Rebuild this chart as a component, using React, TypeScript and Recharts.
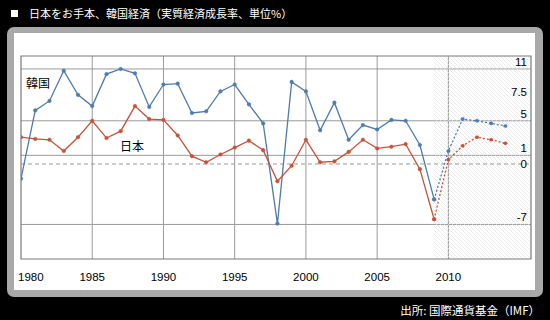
import { LineChart, Line, XAxis, YAxis, CartesianGrid, ReferenceArea, ReferenceLine } from "recharts";

// years 1980-2014, actual until 2009, IMF forecast 2009-2014
const years = [
  1980, 1981, 1982, 1983, 1984, 1985, 1986, 1987, 1988, 1989, 1990, 1991,
  1992, 1993, 1994, 1995, 1996, 1997, 1998, 1999, 2000, 2001, 2002, 2003,
  2004, 2005, 2006, 2007, 2008, 2009, 2010, 2011, 2012, 2013, 2014,
];

const korea = [
  -1.7, 6.2, 7.3, 10.8, 8.0, 6.7, 10.4, 11.0, 10.5, 6.6, 9.2, 9.3,
  5.9, 6.1, 8.4, 9.2, 6.9, 4.7, -6.9, 9.5, 8.4, 3.9, 7.1, 2.8,
  4.5, 4.0, 5.1, 5.0, 2.2, -4.1,
];
const koreaForecast = [-4.1, 1.5, 5.2, 5.0, 4.7, 4.4];

const japan = [
  3.1, 2.9, 2.8, 1.5, 3.1, 5.0, 3.0, 3.8, 6.7, 5.2, 5.1, 3.3,
  0.9, 0.2, 1.1, 1.9, 2.7, 1.6, -2.0, -0.2, 2.8, 0.2, 0.3, 1.4,
  2.8, 1.8, 2.0, 2.3, -0.6, -6.4,
];
const japanForecast = [-6.4, 0.5, 2.1, 3.1, 2.8, 2.4];

const forecastStart = 2009;
const xTicks = [1980, 1985, 1990, 1995, 2000, 2005, 2010];
const yTicks = [11, 7.5, 5, 1, 0, -7];

const data = years.map((year, i) => {
  const f = year - forecastStart;
  return {
    year,
    kr: i < korea.length ? korea[i] : null,
    jp: i < japan.length ? japan[i] : null,
    krF: f >= 0 ? koreaForecast[f] : null,
    jpF: f >= 0 ? japanForecast[f] : null,
  };
});

const BLUE = "#4f7cab";
const RED = "#c4533c";
const GRID = "#9a9a9a";
const X_MAX = 2015.8;
const Y_MIN = -11;
const Y_MAX = 12.5;

const numFont = "'Liberation Sans', Arial, sans-serif";
const jpFont = "'Noto Sans CJK JP', sans-serif";

const XTick = (props: any) => {
  const { x, y, payload } = props;
  const first = payload.value === xTicks[0];
  return (
    <text
      x={first ? x - 3 : x}
      y={y + 14}
      textAnchor={first ? "start" : "middle"}
      fontSize={11.5}
      fontFamily={numFont}
      fill="#000"
    >
      {payload.value}
    </text>
  );
};

// y values are written inside the plot, at its right edge, just above each line
const yLabel = (value: number) => (props: any) => {
  const vb = props.viewBox || {};
  const right = (vb.x || 0) + (vb.width || 0);
  return (
    <text
      x={right - 4}
      y={value === 0 ? vb.y + 4 : vb.y - 3}
      textAnchor="end"
      fontSize={11.5}
      fontFamily={numFont}
      fill="#000"
    >
      {value}
    </text>
  );
};

const dot = (color: string) => ({ r: 1.8, fill: color, stroke: color, strokeWidth: 0.5 });

const App = () => {
  return (
    <div
      style={{
        position: "fixed",
        left: 0,
        top: 0,
        width: 550,
        height: 320,
        background: "#000",
        overflow: "hidden",
      }}
    >
      {/* title */}
      <div style={{ position: "absolute", left: 11, top: 10, width: 7, height: 7, background: "#fff" }} />
      <div
        style={{
          position: "absolute",
          left: 29,
          top: 5,
          color: "#fff",
          fontSize: 11,
          fontFamily: jpFont,
          whiteSpace: "nowrap",
          lineHeight: "16px",
        }}
      >
        日本をお手本、韓国経済（実質経済成長率、単位%）
      </div>

      {/* panel */}
      <div
        style={{
          position: "absolute",
          left: 7,
          top: 27,
          width: 536,
          height: 270,
          background: "#a9a9a9",
          borderRadius: 7,
        }}
      />
      <div style={{ position: "absolute", left: 14, top: 33, width: 521, height: 257, background: "#fff" }} />

      <div style={{ position: "absolute", left: 0, top: 0 }}>
        <LineChart
          width={550}
          height={320}
          data={data}
          margin={{ top: 56, right: 19, left: 21, bottom: 31 }}
        >
          <defs>
            <pattern id="hatch" patternUnits="userSpaceOnUse" width="4" height="4">
              <path d="M-1,-1 L5,5 M-1,3 L1,5 M3,-1 L5,1" stroke="#e3e3e3" strokeWidth="0.7" />
            </pattern>
          </defs>
          <ReferenceArea
            x1={forecastStart}
            x2={X_MAX}
            y1={Y_MIN}
            y2={Y_MAX}
            fill="url(#hatch)"
            fillOpacity={1}
            stroke="none"
          />
          <CartesianGrid
            stroke={GRID}
            horizontalValues={[11, 7.5, 5, 1, -7]}
            verticalValues={[1985, 1990, 1995, 2000, 2005, 2010]}
          />
          {yTicks.map((v) => (
            <ReferenceLine
              key={v}
              y={v}
              stroke={v === 0 ? GRID : "none"}
              strokeDasharray={v === 0 ? "4 3" : undefined}
              label={yLabel(v)}
            />
          ))}
          <ReferenceArea
            x1={1980}
            x2={X_MAX}
            y1={Y_MIN}
            y2={Y_MAX}
            fill="none"
            stroke="#7a7a7a"
            strokeWidth={1.2}
          />
          <XAxis
            dataKey="year"
            type="number"
            domain={[1980, X_MAX]}
            ticks={xTicks}
            height={30}
            axisLine={false}
            tickLine={false}
            tick={<XTick />}
            allowDataOverflow
          />
          <YAxis hide type="number" domain={[Y_MIN, Y_MAX]} ticks={yTicks} allowDataOverflow />
          <Line dataKey="kr" stroke={BLUE} strokeWidth={1.3} dot={dot(BLUE)} isAnimationActive={false} connectNulls={false} />
          <Line dataKey="jp" stroke={RED} strokeWidth={1.3} dot={dot(RED)} isAnimationActive={false} connectNulls={false} />
          <Line dataKey="krF" stroke={BLUE} strokeWidth={1.3} strokeDasharray="2 2" dot={dot(BLUE)} isAnimationActive={false} connectNulls={false} />
          <Line dataKey="jpF" stroke={RED} strokeWidth={1.3} strokeDasharray="2 2" dot={dot(RED)} isAnimationActive={false} connectNulls={false} />
        </LineChart>
      </div>

      {/* series labels */}
      <div style={{ position: "absolute", left: 26, top: 75, fontSize: 12, fontFamily: jpFont, color: "#000", lineHeight: "16px" }}>
        韓国
      </div>
      <div style={{ position: "absolute", left: 120, top: 138, fontSize: 12, fontFamily: jpFont, color: "#000", lineHeight: "16px" }}>
        日本
      </div>

      {/* source */}
      <div
        style={{
          position: "absolute",
          right: 10,
          top: 302,
          color: "#fff",
          fontSize: 11.5,
          fontFamily: jpFont,
          whiteSpace: "nowrap",
          lineHeight: "16px",
        }}
      >
        出所: 国際通貨基金（IMF）
      </div>
    </div>
  );
};

export default App;
